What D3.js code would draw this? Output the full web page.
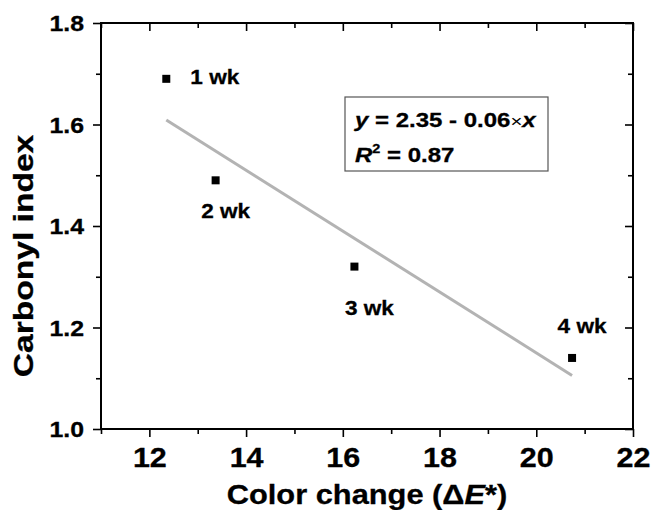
<!DOCTYPE html>
<html lang="en">
<head>
  <meta charset="UTF-8">
  <title>Carbonyl index vs color change</title>
  <script src="https://d3js.org/d3.v7.min.js"></script>
  <style>
    body { margin: 0; background: #fff; }
    svg text { font-family: Arial, "Liberation Sans", sans-serif; font-weight: bold; fill: #000; stroke: #000; stroke-width: 0.3px; }
    .frame { fill: none; stroke: #000; stroke-width: 2px; }
    .fit { fill: none; stroke: #b3b3b3; stroke-width: 3px; }
  </style>
</head>
<body>
  <svg width="652" height="510"></svg>
  <script>
    // data
    const weeks = ["1 wk", "2 wk", "3 wk", "4 wk"];
    const colorChange = [12.35, 13.37, 16.24, 20.74];
    const carbonylIndex = [1.69, 1.49, 1.32, 1.14];
    const fitIntercept = 2.35;
    const fitSlope = -0.06;
    const xTicks = [12, 14, 16, 18, 20, 22];
    const xMinorTicks = [11, 13, 15, 17, 19, 21];
    const yTicks = [1.0, 1.2, 1.4, 1.6, 1.8];
    const yMinorTicks = [1.1, 1.3, 1.5, 1.7];

    const svg = d3.select("svg");
    const plotL = 101, plotR = 633, plotT = 23, plotB = 429;
    const SX = 1.13; // text looks a bit wider than plain Arial

    const x = d3.scaleLinear().domain([11, 22]).range([plotL, plotR]);
    const y = d3.scaleLinear().domain([1.0, 1.8]).range([plotB, plotT]);

    // stretch a text horizontally around its anchor
    function widen(sel, k) {
      sel.each(function() {
        const t = d3.select(this);
        const tx = +t.attr("x") || 0, ty = +t.attr("y") || 0;
        t.attr("x", 0).attr("y", 0)
          .attr("transform", `translate(${tx},${ty}) scale(${k || SX},1)`);
      });
    }

    // bottom axis (ticks outward)
    const gx = svg.append("g").attr("transform", `translate(0,${plotB})`)
      .call(d3.axisBottom(x).tickValues(xTicks).tickSize(8).tickFormat(d3.format("d")));
    svg.append("g").attr("transform", `translate(0,${plotB})`)
      .call(d3.axisBottom(x).tickValues(xMinorTicks).tickSize(5).tickFormat(""));
    // top axis (ticks inward)
    svg.append("g").attr("transform", `translate(0,${plotT})`)
      .call(d3.axisBottom(x).tickValues(xTicks).tickSize(8).tickFormat(""));
    svg.append("g").attr("transform", `translate(0,${plotT})`)
      .call(d3.axisBottom(x).tickValues(xMinorTicks).tickSize(5).tickFormat(""));

    // left axis (ticks outward)
    const gy = svg.append("g").attr("transform", `translate(${plotL},0)`)
      .call(d3.axisLeft(y).tickValues(yTicks).tickSize(8).tickFormat(d3.format(".1f")));
    svg.append("g").attr("transform", `translate(${plotL},0)`)
      .call(d3.axisLeft(y).tickValues(yMinorTicks).tickSize(5).tickFormat(""));
    // right axis (ticks inward)
    svg.append("g").attr("transform", `translate(${plotR},0)`)
      .call(d3.axisLeft(y).tickValues(yTicks).tickSize(8).tickFormat(""));
    svg.append("g").attr("transform", `translate(${plotR},0)`)
      .call(d3.axisLeft(y).tickValues(yMinorTicks).tickSize(5).tickFormat(""));

    svg.selectAll(".domain").remove();
    svg.selectAll(".tick line").attr("stroke", "#000").attr("stroke-width", 1.6);

    gx.selectAll(".tick text")
      .attr("dy", null)
      .attr("y", 38)
      .style("font-size", "27px");
    widen(gx.selectAll(".tick text"));

    gy.selectAll(".tick text")
      .attr("x", -17).attr("dy", "0.36em")
      .style("font-size", "22px");
    widen(gy.selectAll(".tick text"));

    // frame
    svg.append("rect").attr("class", "frame")
      .attr("x", plotL).attr("y", plotT)
      .attr("width", plotR - plotL).attr("height", plotB - plotT);

    // regression line
    const fitX = d3.extent(colorChange);
    svg.append("path").attr("class", "fit")
      .attr("d", d3.line().x(d => x(d)).y(d => y(fitIntercept + fitSlope * d))(fitX));

    // points
    const pts = weeks.map((w, i) => ({ label: w, cx: colorChange[i], ci: carbonylIndex[i] }));
    svg.selectAll(".pt").data(pts).enter().append("rect")
      .attr("class", "pt")
      .attr("x", d => x(d.cx) - 4).attr("y", d => y(d.ci) - 4)
      .attr("width", 8).attr("height", 8).attr("fill", "#000");

    // point labels, placed around each marker
    const labelPos = [
      { dx: 24, dy: 5, anchor: "start" },
      { dx: 10, dy: 38, anchor: "middle" },
      { dx: 15, dy: 48, anchor: "middle" },
      { dx: 10, dy: -25, anchor: "middle" }
    ];
    const lbl = svg.selectAll(".lbl").data(pts).enter().append("text")
      .attr("class", "lbl")
      .attr("x", (d, i) => x(d.cx) + labelPos[i].dx)
      .attr("y", (d, i) => y(d.ci) + labelPos[i].dy)
      .attr("text-anchor", (d, i) => labelPos[i].anchor)
      .style("font-size", "20px")
      .text(d => d.label);
    widen(lbl);

    // equation box
    svg.append("rect")
      .attr("x", 345).attr("y", 97).attr("width", 203).attr("height", 74)
      .attr("fill", "#fff").attr("stroke", "#555").attr("stroke-width", 1.2);

    const eq1 = svg.append("text").attr("x", 355).attr("y", 127).style("font-size", "20px");
    eq1.append("tspan").style("font-style", "italic").text("y");
    eq1.append("tspan").text(" = " + fitIntercept.toFixed(2) + " - " + Math.abs(fitSlope).toFixed(2));
    eq1.append("tspan").style("font-weight", "normal").style("stroke-width", 0).style("font-size", "17px").text("\u00d7");
    eq1.append("tspan").style("font-style", "italic").text("x");
    widen(eq1, 1.2);

    const eq2 = svg.append("text").attr("x", 355).attr("y", 162).style("font-size", "20px");
    eq2.append("tspan").style("font-style", "italic").text("R");
    eq2.append("tspan").attr("dy", -9).style("font-size", "12px").text("2");
    eq2.append("tspan").attr("dy", 9).text(" = 0.87");
    widen(eq2, 1.2);

    // axis titles
    const xt = svg.append("text").attr("x", (plotL + plotR) / 2).attr("y", 504)
      .attr("text-anchor", "middle").style("font-size", "28px");
    xt.append("tspan").text("Color change (\u0394");
    xt.append("tspan").style("font-style", "italic").text("E");
    xt.append("tspan").text("*)");
    widen(xt, 1.1);

    svg.append("text")
      .attr("transform", "translate(33,256) rotate(-90) scale(1.2,1)")
      .attr("text-anchor", "middle").style("font-size", "28px")
      .text("Carbonyl index");
  </script>
</body>
</html>
